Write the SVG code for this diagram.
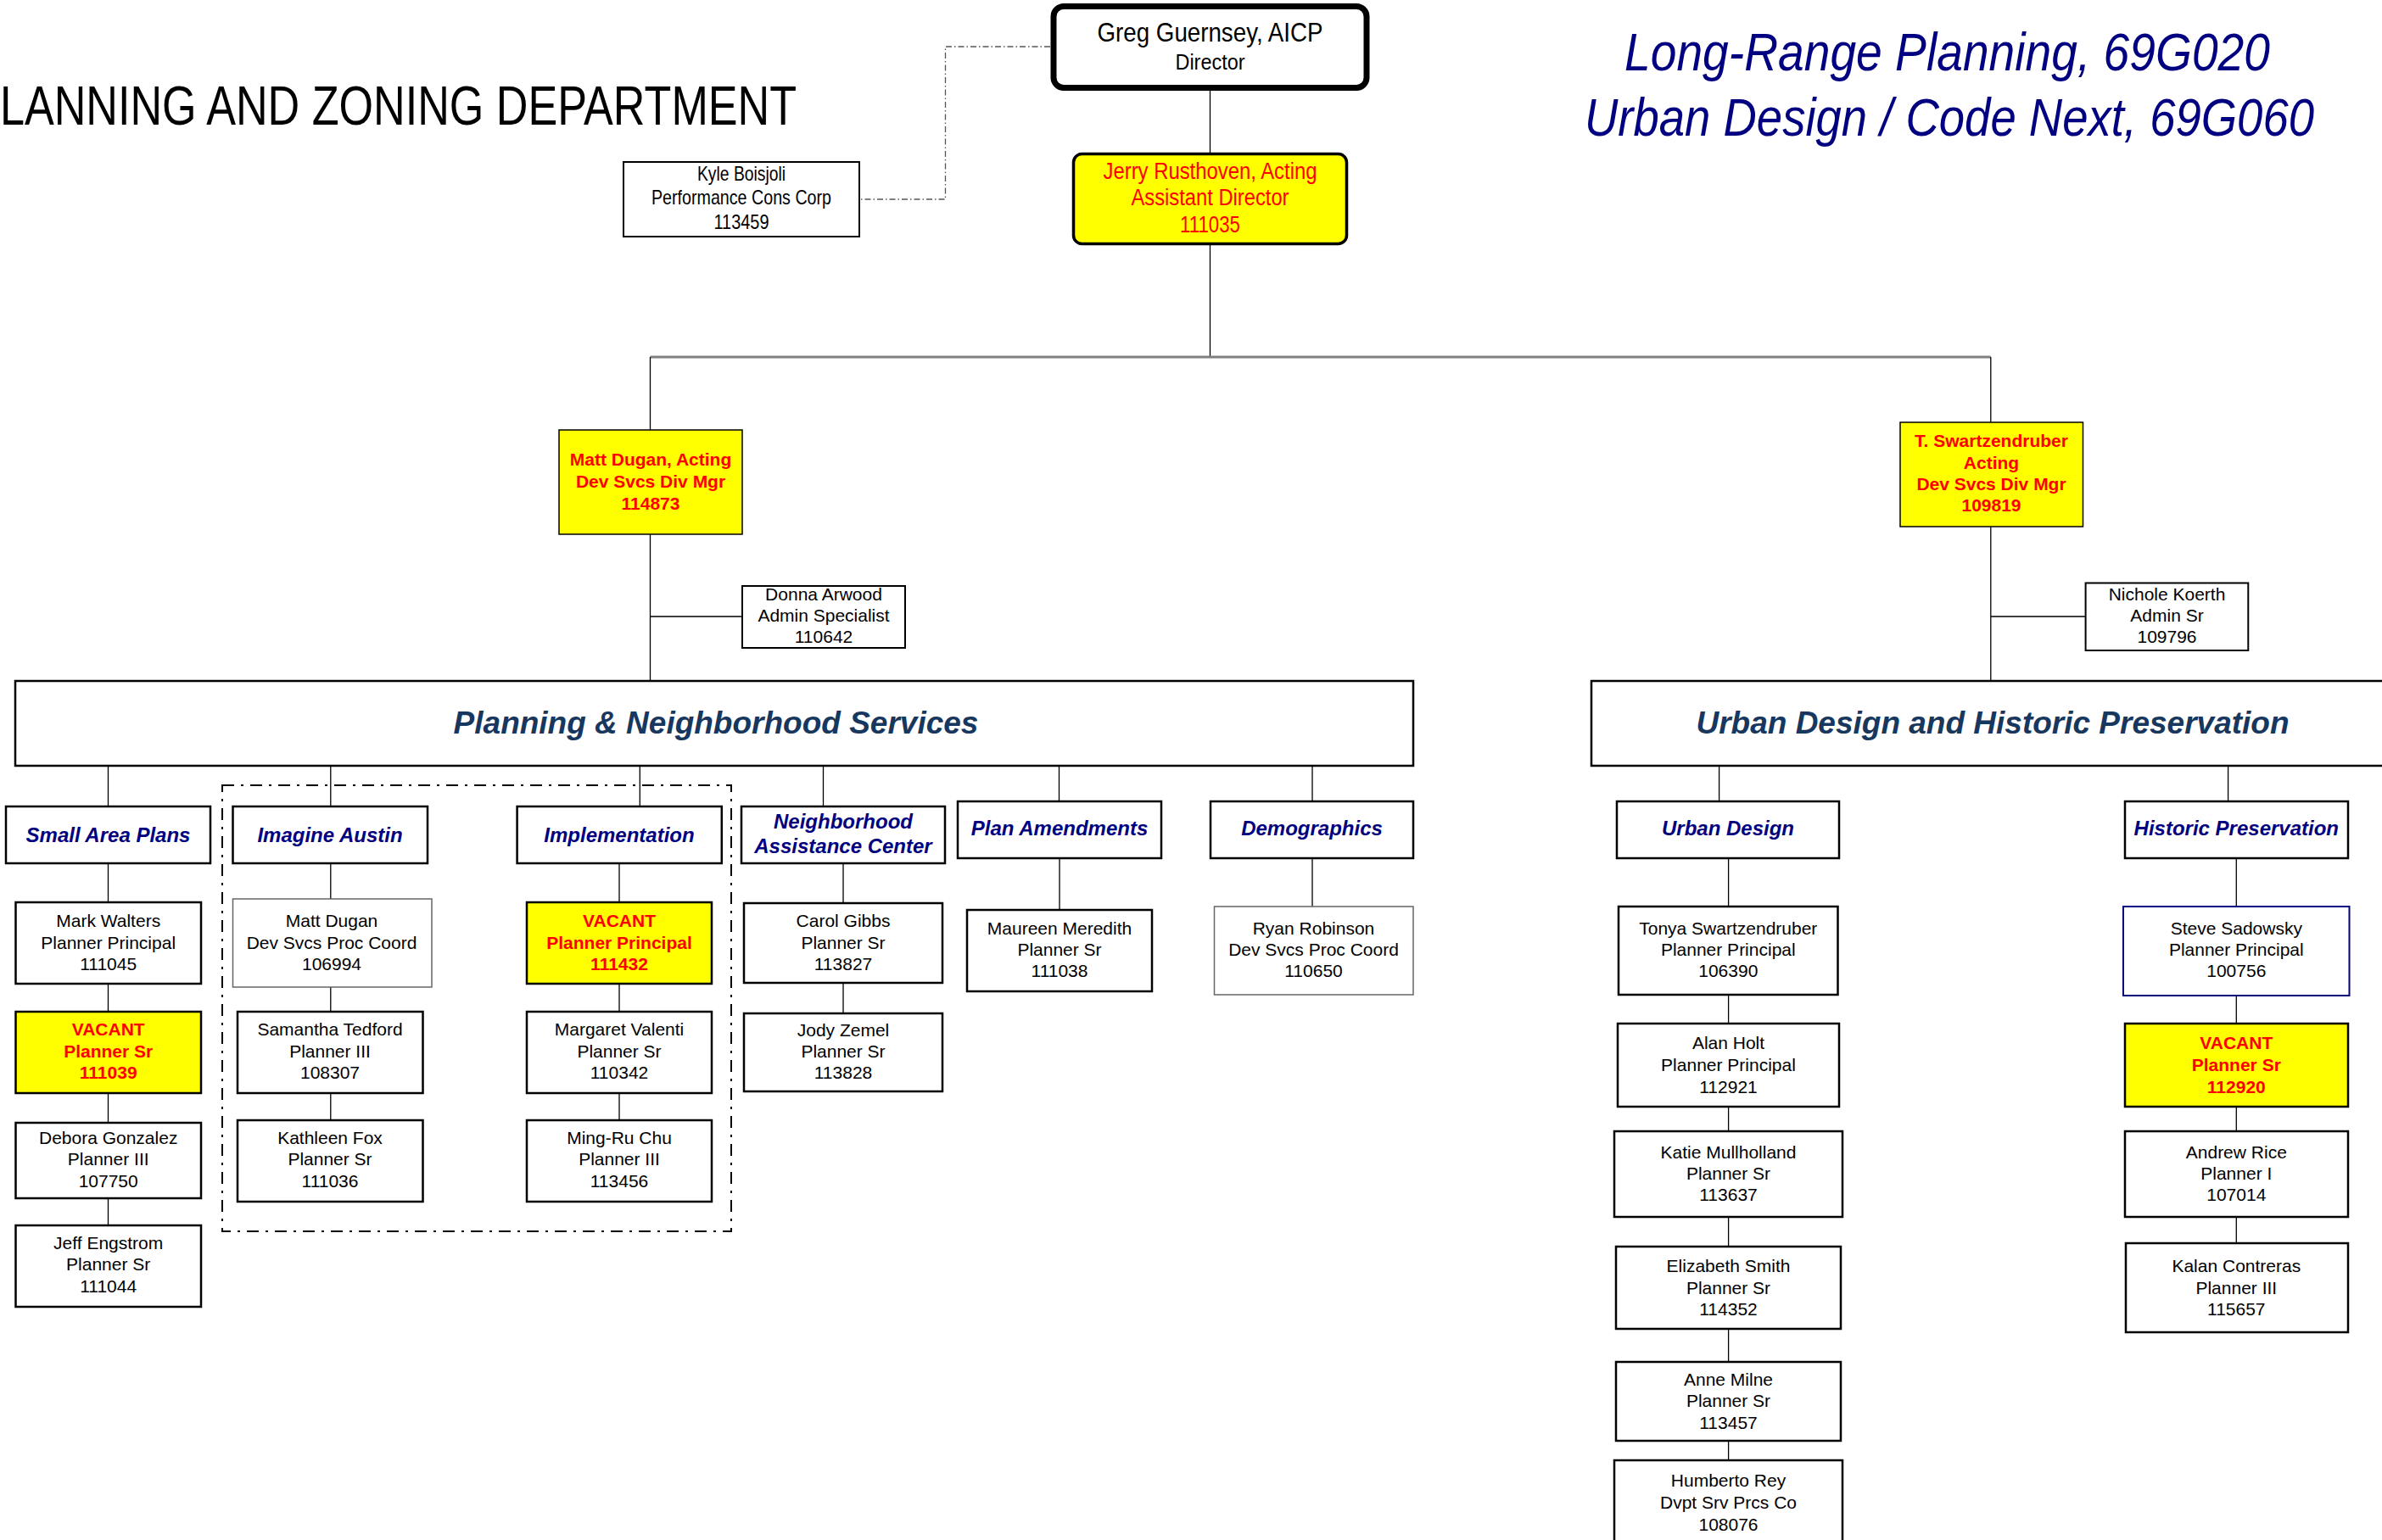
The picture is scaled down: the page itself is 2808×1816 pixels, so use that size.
<svg xmlns="http://www.w3.org/2000/svg" width="2808" height="1816" viewBox="0 0 2808 1816">
<style>
.bg{fill:#fff}
.box{fill:#fff;stroke:#000;stroke-width:2.5}
.thin{fill:#fff;stroke:#666;stroke-width:1.5}
.navyb{fill:#fff;stroke:#000080;stroke-width:2}
.yel{fill:#ffff00;stroke:#000;stroke-width:2.5}
.t{font-family:"Liberation Sans",Arial,sans-serif;font-size:21px;text-anchor:middle;fill:#000}
.r{font-weight:bold;fill:#ff0000}
.nar{font-family:"Liberation Sans Narrow","Liberation Sans",Arial,sans-serif;text-anchor:middle}
.sub{font-family:"Liberation Sans",Arial,sans-serif;font-weight:bold;font-style:italic;font-size:24px;fill:#000080;text-anchor:middle}
.div{font-family:"Liberation Sans",Arial,sans-serif;font-weight:bold;font-style:italic;font-size:37px;fill:#17375e;text-anchor:middle}
.conn path{fill:none;stroke:#000;stroke-width:1.3}
</style>
<rect class="bg" x="0" y="0" width="2808" height="1816"/>

<!-- Titles -->
<text id="title" class="nar" x="0" y="147" font-size="64" style="text-anchor:start" textLength="939" lengthAdjust="spacingAndGlyphs">LANNING AND ZONING DEPARTMENT</text>
<g id="title-right" font-family="Liberation Sans, Arial, sans-serif" font-style="italic" font-size="56" fill="#000080">
<text transform="translate(1915,83) scale(1,1.125)" x="0" y="0" textLength="761" lengthAdjust="spacingAndGlyphs">Long-Range Planning, 69G020</text>
<text transform="translate(1868,160) scale(1,1.125)" x="0" y="0" textLength="860" lengthAdjust="spacingAndGlyphs">Urban Design / Code Next, 69G060</text>
</g>

<!-- Connectors -->
<g id="connectors" class="conn">
<path d="M1426.5 107V180"/>
<path d="M1238 55H1114.5V235H1013" style="stroke:#555;stroke-width:1.3;stroke-dasharray:7 3 1.5 3"/>
<path d="M1426.5 289V421"/>
<path d="M766.5 421H2346.8" style="stroke:#808080;stroke-width:3"/>
<path d="M766.5 421V507M766.5 630V803M766.5 727H875"/>
<path d="M2346.8 421V498M2346.8 621V803M2346.8 727H2458.6"/>
<path d="M127.5 903V951M389.8 903V951M754.3 903V951M970.5 903V951M1248.5 903V945M1547 903V945"/>
<path d="M2026.6 903V945M2626.6 903V945"/>
<path d="M127.5 1018V1064M127.5 1160V1193M127.5 1289V1324M127.5 1413V1445"/>
<path d="M389.8 1018V1060M389.8 1164V1193M389.8 1289V1321"/>
<path d="M730 1018V1064M730 1160V1193M730 1289V1321"/>
<path d="M994 1018V1065M994 1159V1195"/>
<path d="M1249 1012V1073M1547 1012V1069"/>
<path d="M2037.6 1012V1069M2037.6 1173V1207M2037.6 1305V1334M2037.6 1435V1470M2037.6 1567V1606M2037.6 1699V1722"/>
<path d="M2636.3 1012V1069M2636.3 1174V1207M2636.3 1305V1334M2636.3 1435V1466"/>
</g>

<!-- dashed group -->
<rect id="group-ia-impl" x="262" y="926" width="600" height="526" fill="none" stroke="#000" stroke-width="2" stroke-dasharray="14 8 3 8"/>

<!-- Top -->
<g id="director">
<rect x="1242" y="7.5" width="369" height="96" rx="12" fill="#fff" stroke="#000" stroke-width="7"/>
<text class="nar" x="1426.5" y="49" font-size="32" textLength="266" lengthAdjust="spacingAndGlyphs">Greg Guernsey, AICP</text>
<text class="nar" x="1426.5" y="82" font-size="25" textLength="82" lengthAdjust="spacingAndGlyphs">Director</text>
</g>
<g id="kyle">
<rect x="735" y="191" width="278" height="88" fill="#fff" stroke="#000" stroke-width="2"/>
<text class="nar" x="874" y="213" font-size="24" textLength="104" lengthAdjust="spacingAndGlyphs">Kyle Boisjoli</text>
<text class="nar" x="874" y="241" font-size="24" textLength="212" lengthAdjust="spacingAndGlyphs">Performance Cons Corp</text>
<text class="nar" x="874" y="270" font-size="24" textLength="65" lengthAdjust="spacingAndGlyphs">113459</text>
</g>
<g id="jerry">
<rect x="1265.5" y="181.5" width="322" height="106" rx="10" fill="#ffff00" stroke="#000" stroke-width="3.5"/>
<text class="nar" x="1426.5" y="211" font-size="27" fill="#ff0000" textLength="252" lengthAdjust="spacingAndGlyphs">Jerry Rusthoven, Acting</text>
<text class="nar" x="1426.5" y="242" font-size="27" fill="#ff0000" textLength="186" lengthAdjust="spacingAndGlyphs">Assistant Director</text>
<text class="nar" x="1426.5" y="274" font-size="27" fill="#ff0000" textLength="71" lengthAdjust="spacingAndGlyphs">111035</text>
</g>

<!-- Division managers -->
<g id="matt-dugan-mgr">
<rect class="yel" x="659" y="507" width="216" height="123" style="stroke-width:1.5"/>
<text class="t r" x="767" y="549">Matt Dugan, Acting</text>
<text class="t r" x="767" y="575">Dev Svcs Div Mgr</text>
<text class="t r" x="767" y="601">114873</text>
</g>
<g id="donna">
<rect class="box" x="875" y="691" width="192" height="73" style="stroke-width:2"/>
<text class="t" x="971" y="708">Donna Arwood</text>
<text class="t" x="971" y="733">Admin Specialist</text>
<text class="t" x="971" y="758">110642</text>
</g>
<g id="t-swartzendruber">
<rect class="yel" x="2240" y="498" width="215.5" height="123" style="stroke-width:1.5"/>
<text class="t r" x="2347.5" y="527">T. Swartzendruber</text>
<text class="t r" x="2347.5" y="553">Acting</text>
<text class="t r" x="2347.5" y="578">Dev Svcs Div Mgr</text>
<text class="t r" x="2347.5" y="603">109819</text>
</g>
<g id="nichole">
<rect class="box" x="2458.6" y="687.5" width="191.7" height="79.5" style="stroke-width:2"/>
<text class="t" x="2554.5" y="708">Nichole Koerth</text>
<text class="t" x="2554.5" y="733">Admin Sr</text>
<text class="t" x="2554.5" y="758">109796</text>
</g>

<!-- Divisions -->
<g id="pns">
<rect class="box" x="18" y="803" width="1648" height="100"/>
<text class="div" x="844" y="865">Planning &amp; Neighborhood Services</text>
</g>
<g id="udhp">
<rect class="box" x="1876" y="803" width="946" height="100"/>
<text class="div" x="2349" y="865">Urban Design and Historic Preservation</text>
</g>

<!-- Sections -->
<g id="sec-sap"><rect class="box" x="7" y="951" width="241" height="67"/><text class="sub" x="127.5" y="993">Small Area Plans</text></g>
<g id="sec-ia"><rect class="box" x="274.5" y="951" width="229.5" height="67"/><text class="sub" x="389" y="993">Imagine Austin</text></g>
<g id="sec-impl"><rect class="box" x="609.6" y="951" width="241.2" height="67"/><text class="sub" x="730" y="993">Implementation</text></g>
<g id="sec-nac"><rect class="box" x="874" y="951" width="240" height="67"/><text class="sub" x="994" y="977">Neighborhood</text><text class="sub" x="994" y="1006">Assistance Center</text></g>
<g id="sec-pa"><rect class="box" x="1129" y="945" width="240" height="67"/><text class="sub" x="1249" y="985">Plan Amendments</text></g>
<g id="sec-demo"><rect class="box" x="1427" y="945" width="239" height="67"/><text class="sub" x="1546.5" y="985">Demographics</text></g>
<g id="sec-ud"><rect class="box" x="1906" y="945" width="262" height="67"/><text class="sub" x="2037" y="985">Urban Design</text></g>
<g id="sec-hp"><rect class="box" x="2505" y="945" width="263" height="67"/><text class="sub" x="2636.3" y="985">Historic Preservation</text></g>

<!-- Small Area Plans staff -->
<g id="p-mark-walters"><rect class="box" x="18.5" y="1064" width="218.5" height="96"/>
<text class="t" x="127.7" y="1093">Mark Walters</text><text class="t" x="127.7" y="1119">Planner Principal</text><text class="t" x="127.7" y="1144">111045</text></g>
<g id="p-vacant-111039"><rect class="yel" x="18.5" y="1193" width="218.5" height="96"/>
<text class="t r" x="127.7" y="1221">VACANT</text><text class="t r" x="127.7" y="1247">Planner Sr</text><text class="t r" x="127.7" y="1272">111039</text></g>
<g id="p-debora-gonzalez"><rect class="box" x="18.5" y="1324" width="218.5" height="89"/>
<text class="t" x="127.7" y="1349">Debora Gonzalez</text><text class="t" x="127.7" y="1374">Planner III</text><text class="t" x="127.7" y="1400">107750</text></g>
<g id="p-jeff-engstrom"><rect class="box" x="18.5" y="1445" width="218.5" height="96"/>
<text class="t" x="127.7" y="1473">Jeff Engstrom</text><text class="t" x="127.7" y="1498">Planner Sr</text><text class="t" x="127.7" y="1524">111044</text></g>

<!-- Imagine Austin staff -->
<g id="p-matt-dugan"><rect class="thin" x="274.5" y="1060" width="234.5" height="104"/>
<text class="t" x="391" y="1093">Matt Dugan</text><text class="t" x="391" y="1119">Dev Svcs Proc Coord</text><text class="t" x="391" y="1144">106994</text></g>
<g id="p-samantha-tedford"><rect class="box" x="280" y="1193" width="218.5" height="96"/>
<text class="t" x="389" y="1221">Samantha Tedford</text><text class="t" x="389" y="1247">Planner III</text><text class="t" x="389" y="1272">108307</text></g>
<g id="p-kathleen-fox"><rect class="box" x="280" y="1321" width="218.5" height="96"/>
<text class="t" x="389" y="1349">Kathleen Fox</text><text class="t" x="389" y="1374">Planner Sr</text><text class="t" x="389" y="1400">111036</text></g>

<!-- Implementation staff -->
<g id="p-vacant-111432"><rect class="yel" x="621" y="1064" width="218" height="96"/>
<text class="t r" x="730" y="1093">VACANT</text><text class="t r" x="730" y="1119">Planner Principal</text><text class="t r" x="730" y="1144">111432</text></g>
<g id="p-margaret-valenti"><rect class="box" x="621" y="1193" width="218" height="96"/>
<text class="t" x="730" y="1221">Margaret Valenti</text><text class="t" x="730" y="1247">Planner Sr</text><text class="t" x="730" y="1272">110342</text></g>
<g id="p-ming-ru-chu"><rect class="box" x="621" y="1321" width="218" height="96"/>
<text class="t" x="730" y="1349">Ming-Ru Chu</text><text class="t" x="730" y="1374">Planner III</text><text class="t" x="730" y="1400">113456</text></g>

<!-- NAC staff -->
<g id="p-carol-gibbs"><rect class="box" x="877" y="1065" width="234" height="94"/>
<text class="t" x="994" y="1093">Carol Gibbs</text><text class="t" x="994" y="1119">Planner Sr</text><text class="t" x="994" y="1144">113827</text></g>
<g id="p-jody-zemel"><rect class="box" x="877" y="1195" width="234" height="92"/>
<text class="t" x="994" y="1222">Jody Zemel</text><text class="t" x="994" y="1247">Planner Sr</text><text class="t" x="994" y="1272">113828</text></g>

<!-- Plan Amendments / Demographics staff -->
<g id="p-maureen-meredith"><rect class="box" x="1140" y="1073" width="218" height="96"/>
<text class="t" x="1249" y="1102">Maureen Meredith</text><text class="t" x="1249" y="1127">Planner Sr</text><text class="t" x="1249" y="1152">111038</text></g>
<g id="p-ryan-robinson"><rect class="thin" x="1431.5" y="1069" width="234.5" height="104"/>
<text class="t" x="1548.5" y="1102">Ryan Robinson</text><text class="t" x="1548.5" y="1127">Dev Svcs Proc Coord</text><text class="t" x="1548.5" y="1152">110650</text></g>

<!-- Urban Design staff -->
<g id="p-tonya-swartzendruber"><rect class="box" x="1908" y="1069" width="258.5" height="104"/>
<text class="t" x="2037.3" y="1102">Tonya Swartzendruber</text><text class="t" x="2037.3" y="1127">Planner Principal</text><text class="t" x="2037.3" y="1152">106390</text></g>
<g id="p-alan-holt"><rect class="box" x="1907" y="1207" width="261" height="98"/>
<text class="t" x="2037.5" y="1237">Alan Holt</text><text class="t" x="2037.5" y="1263">Planner Principal</text><text class="t" x="2037.5" y="1289">112921</text></g>
<g id="p-katie-mullholland"><rect class="box" x="1903" y="1334" width="269" height="101"/>
<text class="t" x="2037.5" y="1366">Katie Mullholland</text><text class="t" x="2037.5" y="1391">Planner Sr</text><text class="t" x="2037.5" y="1416">113637</text></g>
<g id="p-elizabeth-smith"><rect class="box" x="1905" y="1470" width="265" height="97"/>
<text class="t" x="2037.5" y="1500">Elizabeth Smith</text><text class="t" x="2037.5" y="1526">Planner Sr</text><text class="t" x="2037.5" y="1551">114352</text></g>
<g id="p-anne-milne"><rect class="box" x="1905" y="1606" width="265" height="93"/>
<text class="t" x="2037.5" y="1634">Anne Milne</text><text class="t" x="2037.5" y="1659">Planner Sr</text><text class="t" x="2037.5" y="1685">113457</text></g>
<g id="p-humberto-rey"><rect class="box" x="1903" y="1722" width="269" height="100"/>
<text class="t" x="2037.5" y="1753">Humberto Rey</text><text class="t" x="2037.5" y="1779">Dvpt Srv Prcs Co</text><text class="t" x="2037.5" y="1805">108076</text></g>

<!-- Historic Preservation staff -->
<g id="p-steve-sadowsky"><rect class="navyb" x="2503" y="1069" width="266.5" height="105"/>
<text class="t" x="2636.3" y="1102">Steve Sadowsky</text><text class="t" x="2636.3" y="1127">Planner Principal</text><text class="t" x="2636.3" y="1152">100756</text></g>
<g id="p-vacant-112920"><rect class="yel" x="2505" y="1207" width="263" height="98"/>
<text class="t r" x="2636.3" y="1237">VACANT</text><text class="t r" x="2636.3" y="1263">Planner Sr</text><text class="t r" x="2636.3" y="1289">112920</text></g>
<g id="p-andrew-rice"><rect class="box" x="2505" y="1334" width="263" height="101"/>
<text class="t" x="2636.3" y="1366">Andrew Rice</text><text class="t" x="2636.3" y="1391">Planner I</text><text class="t" x="2636.3" y="1416">107014</text></g>
<g id="p-kalan-contreras"><rect class="box" x="2506" y="1466" width="262" height="105"/>
<text class="t" x="2636.3" y="1500">Kalan Contreras</text><text class="t" x="2636.3" y="1526">Planner III</text><text class="t" x="2636.3" y="1551">115657</text></g>
</svg>
